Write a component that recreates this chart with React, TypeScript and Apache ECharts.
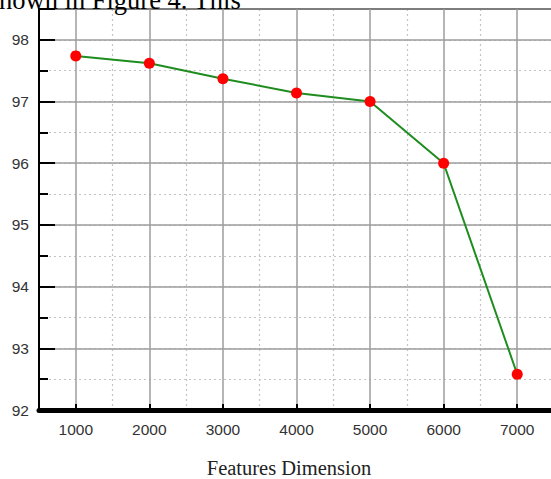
import React, { useEffect, useRef } from "react";
import * as echarts from "echarts";

const dims = [1000, 2000, 3000, 4000, 5000, 6000, 7000];
const accuracy = [97.74, 97.62, 97.37, 97.14, 97.0, 96.0, 92.58];
const xTickLabels = [1000, 2000, 3000, 4000, 5000, 6000, 7000];
const xMinorLines = [1500, 2500, 3500, 4500, 5500, 6500];
const yTickLabels = [92, 93, 94, 95, 96, 97, 98];
const xTitle = "Features Dimension";
const topFragment = "hown in Figure 4. This";

export default function App() {
  const ref = useRef<HTMLDivElement>(null);
  useEffect(() => {
    if (!ref.current) return;
    const chart = echarts.init(ref.current, undefined, { renderer: "svg" });
    const data = dims.map((d, i) => [d, accuracy[i]]);
    chart.setOption({
      animation: false,
      backgroundColor: "#ffffff",
      grid: { left: 39, top: 9, right: -3, bottom: 69, containLabel: false, outerBoundsMode: "none" },
      xAxis: [
        {
          type: "value",
          position: "bottom",
          min: 500,
          max: 7500,
          interval: 500,
          z: 1,
          axisLine: { show: true, onZero: false, lineStyle: { color: "#000", width: 5 } },
          axisTick: { show: true, inside: true, length: 6, customValues: xTickLabels, lineStyle: { color: "#000", width: 2 } },
          axisLabel: {
            show: true,
            customValues: xTickLabels,
            margin: 11,
            color: "#333",
            fontSize: 15.5,
            fontFamily: "Liberation Sans",
            formatter: (v: number) => String(v),
          },
          splitLine: { show: true, lineStyle: { color: "#9c9c9c", width: 1.5, type: "solid" } },
        },
        {
          type: "value",
          position: "top",
          min: 500,
          max: 7500,
          z: 0,
          axisLine: { show: true, onZero: false, lineStyle: { color: "#222", width: 2 } },
          axisTick: { show: false, customValues: xMinorLines },
          axisLabel: { show: false, customValues: xMinorLines },
          splitLine: { show: true, lineStyle: { color: "#c4c4c4", width: 1.2, type: [2, 3] } },
        },
      ],
      yAxis: [
        {
          type: "value",
          position: "left",
          min: 92,
          max: 98.5,
          interval: 1,
          z: 1,
          axisLine: { show: true, onZero: false, lineStyle: { color: "#000", width: 2 } },
          axisTick: { show: true, inside: true, length: 16, lineStyle: { color: "#000", width: 2 } },
          axisLabel: {
            show: true,
            margin: 10,
            color: "#333",
            fontSize: 15.5,
            fontFamily: "Liberation Sans",
            formatter: (v: number) => (yTickLabels.indexOf(v) >= 0 ? String(v) : ""),
          },
          splitLine: { show: true, lineStyle: { color: "#9c9c9c", width: 1.5, type: "solid" } },
        },
        {
          type: "value",
          position: "left",
          min: 92,
          max: 98.5,
          interval: 0.5,
          z: 0,
          axisLine: { show: false },
          axisTick: { show: true, inside: true, length: 9, lineStyle: { color: "#000", width: 2 } },
          axisLabel: { show: false },
          splitLine: { show: true, lineStyle: { color: "#c4c4c4", width: 1.2, type: [2, 3] } },
        },
      ],
      series: [
        {
          type: "line",
          xAxisIndex: 0,
          yAxisIndex: 0,
          data,
          z: 3,
          symbol: "circle",
          symbolSize: 11,
          itemStyle: { color: "#ff0000" },
          lineStyle: { color: "#1e8c1e", width: 2 },
        },
      ],
      graphic: [
        {
          type: "text",
          x: 289,
          y: 468,
          style: {
            text: xTitle,
            align: "center",
            verticalAlign: "middle",
            font: '20.5px "Liberation Serif"',
            fill: "#222",
          },
        },
        {
          type: "text",
          x: -1,
          y: -0.5,
          z: 10,
          style: {
            text: topFragment,
            align: "left",
            verticalAlign: "middle",
            font: '26.5px "Liberation Serif"',
            fill: "#000",
          },
        },
      ],
    });
    return () => chart.dispose();
  }, []);
  return <div ref={ref} style={{ width: 551, height: 479, position: "absolute", left: 0, top: 0 }} />;
}
